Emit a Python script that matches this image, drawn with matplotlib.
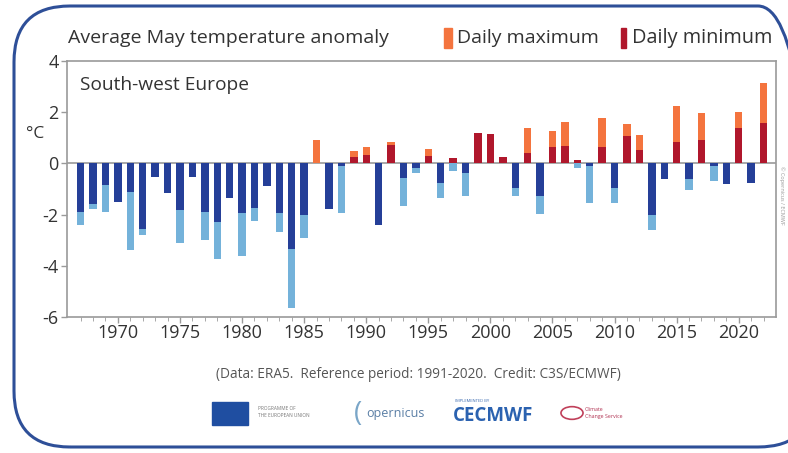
import matplotlib

matplotlib.use("Agg")
import matplotlib.pyplot as plt
import numpy as np
from matplotlib.patches import FancyBboxPatch, Rectangle, Circle

plt.rcParams["font.family"] = ["Open Sans", "DejaVu Sans"]
plt.rcParams["axes.unicode_minus"] = False

# --- data (anomaly vs 1991-2020, degC) ---
years = list(range(1967, 2023))
daily_max = [
    -2.4, -1.78, -1.9, -1.3, -3.4, -2.8, -0.4, -1.0,        # 1967-1974
    -3.1, -0.4, -3.0, -3.72, -1.2, -3.62, -2.24, -0.7,      # 1975-1982
    -2.67, -5.66, -2.93, 0.9, -1.5, -1.95, 0.48, 0.63,      # 1983-1990
    -2.2, 0.82, -1.68, -0.36, 0.55, -1.34, -0.3, -1.27,     # 1991-1998
    0.6, 0.55, 0.1, -1.27, 1.39, -1.99, 1.26, 1.63,         # 1999-2006
    -0.17, -1.53, 1.78, -1.56, 1.52, 1.11, -2.6, -0.4,      # 2007-2014
    2.25, -1.02, 1.95, -0.69, -0.6, 2.02, -0.5, 3.16,       # 2015-2022
]
daily_min = [
    -1.89, -1.6, -0.83, -1.5, -1.11, -2.55, -0.52, -1.16,
    -1.82, -0.52, -1.89, -2.3, -1.37, -1.95, -1.76, -0.89,
    -1.95, -3.36, -2.02, 0.03, -1.78, -0.1, 0.26, 0.33,
    -2.41, 0.72, -0.58, -0.17, 0.29, -0.76, 0.22, -0.36,
    1.2, 1.13, 0.25, -0.95, 0.42, -1.27, 0.64, 0.68,
    0.13, -0.1, 0.65, -0.98, 1.08, 0.52, -2.02, -0.59,
    0.85, -0.59, 0.91, -0.1, -0.82, 1.37, -0.78, 1.56,
]

MAX_POS, MAX_NEG = "#f4743e", "#74b2da"
MIN_POS, MIN_NEG = "#b0172c", "#253f98"
FRAME = "#2e4f98"
GREY = "#9a9a9a"
TXT = "#333333"

W, H = 788, 453
fig = plt.figure(figsize=(W / 100, H / 100), dpi=100)


def fx(px):
    return px / W


def fy(py):
    return 1 - py / H


# rounded outer frame (inch coords so the corners stay circular)
frame = FancyBboxPatch((0.14, 0.06), 8.0, 4.41,
                       boxstyle="round,pad=0,rounding_size=0.56",
                       transform=fig.dpi_scale_trans, fill=False,
                       edgecolor=FRAME, lw=2.2, clip_on=False)
fig.add_artist(frame)

ax = fig.add_axes([fx(67), fy(317), fx(709), 256 / H])

x = np.array(years)
mx = np.array(daily_max)
mn = np.array(daily_min)
ax.bar(x, mx, width=0.6, color=np.where(mx >= 0, MAX_POS, MAX_NEG), zorder=2)
ax.bar(x, mn, width=0.6, color=np.where(mn >= 0, MIN_POS, MIN_NEG), zorder=3)
ax.axhline(0, color=GREY, lw=1.2, zorder=1)

ax.set_xlim(1965.9, 2023.0)
ax.set_ylim(-6, 4)
ax.set_yticks(range(-6, 5, 2))
ax.set_xticks(range(1970, 2021, 5))
ax.set_xticks(years, minor=True)
for s in ax.spines.values():
    s.set_color(GREY)
    s.set_linewidth(1.2)
ax.tick_params(axis="both", colors=GREY, labelcolor=TXT, labelsize=13,
               length=4, width=1)
ax.tick_params(axis="x", which="minor", length=3, colors=GREY)
ax.tick_params(axis="x", pad=1)
ax.tick_params(axis="y", pad=2)

ax.text(0.018, 0.94, "South-west Europe", transform=ax.transAxes,
        fontsize=13.8, color=TXT, va="top")
fig.text(fx(35), fy(134), "°C", fontsize=12.5, color=TXT,
         ha="center", va="center")

# header + legend
fig.text(fx(68), fy(38), "Average May temperature anomaly",
         fontsize=14, color=TXT, va="center")
fig.add_artist(Rectangle((fx(444), fy(48)), 8 / W, 20 / H,
                         transform=fig.transFigure, color=MAX_POS))
fig.text(fx(457), fy(38), "Daily maximum", fontsize=14, color=TXT,
         va="center")
fig.add_artist(Rectangle((fx(621), fy(48)), 5 / W, 20 / H,
                         transform=fig.transFigure, color=MIN_POS))
fig.text(fx(632), fy(38), "Daily minimum", fontsize=14.3, color=TXT,
         va="center")

fig.text(fx(782), fy(195), "© Copernicus / ECMWF", fontsize=4,
         color="#999999", rotation=270, ha="center", va="center")

# credit line
fig.text(fx(418), fy(375),
         "(Data: ERA5.  Reference period: 1991-2020.  Credit: C3S/ECMWF)",
         fontsize=9.8, color="#555555", ha="center", va="center")

# logo strip (simplified)
fig.add_artist(Rectangle((fx(212), fy(425)), 36 / W, 23 / H,
                         transform=fig.transFigure, color="#1f4ea1"))
fig.text(fx(258), fy(412), "PROGRAMME OF\nTHE EUROPEAN UNION",
         fontsize=3.4, color="#777777", va="center", linespacing=1.6)
fig.text(fx(354), fy(414), "(", fontsize=20, color="#7aa6c8",
         va="center")
fig.text(fx(366), fy(413), "opernicus", fontsize=9, color="#5a7ea5",
         va="center")
fig.text(fx(455), fy(401), "IMPLEMENTED BY", fontsize=3, color="#3a6ab0",
         va="center")
fig.text(fx(453), fy(416), "CECMWF", fontsize=13.5, color="#2b62b0",
         fontweight="bold", va="center")
fig.add_artist(Circle((fx(572), fy(413)), 0.014,
                      transform=fig.transFigure, fill=False,
                      edgecolor="#c0405a", lw=1.2))
fig.text(fx(585), fy(413), "Climate\nChange Service", fontsize=3.8,
         color="#b03050", va="center", linespacing=1.4)

fig.savefig("out.png", dpi=100)
plt.close(fig)
